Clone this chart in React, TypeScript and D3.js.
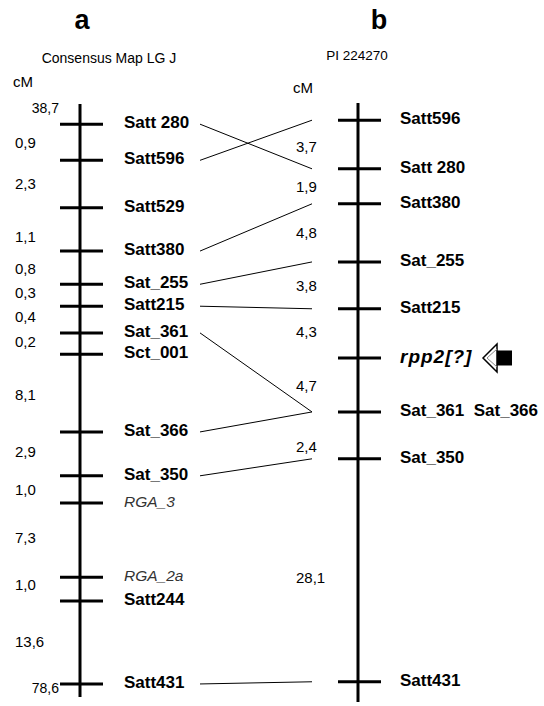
import React from "react";
import * as d3 from "d3";

// positions are given along each linkage group, 0 = top of the bar, 100 = bottom
const leftMarkers = ["Satt 280", "Satt596", "Satt529", "Satt380", "Sat_255", "Satt215", "Sat_361", "Sct_001", "Sat_366", "Sat_350", "RGA_3", "RGA_2a", "Satt244", "Satt431"];
const leftPos = [3.4, 9.5, 17.5, 24.8, 30.4, 34.1, 38.6, 42.2, 55.3, 62.7, 67.3, 79.8, 83.8, 97.8];
const leftItalic = ["RGA_3", "RGA_2a"];
const leftIntervals = ["0,9", "2,3", "1,1", "0,8", "0,3", "0,4", "0,2", "8,1", "2,9", "1,0", "7,3", "1,0", "13,6"];
const leftIntervalPos = [6.6, 13.5, 22.4, 27.8, 31.9, 35.9, 40.1, 49.1, 58.7, 65.1, 73.2, 81.1, 90.7];
const leftEnds = ["38,7", "78,6"];
const leftEndPos = [0.7, 98.5];

const rightMarkers = ["Satt596", "Satt 280", "Satt380", "Sat_255", "Satt215", "rpp2[?]", "Sat_361  Sat_366", "Sat_350", "Satt431"];
const rightPos = [2.9, 11.1, 17.0, 26.8, 34.7, 43.0, 52.1, 60.0, 97.6];
const rightIntervals = ["3,7", "1,9", "4,8", "3,8", "4,3", "4,7", "2,4", "28,1"];
const rightIntervalPos = [7.3, 14.2, 21.8, 30.9, 38.6, 47.7, 58.0, 80.1];
const gene = "rpp2[?]";

const links = [
  ["Satt 280", "Satt 280"],
  ["Satt596", "Satt596"],
  ["Satt380", "Satt380"],
  ["Sat_255", "Sat_255"],
  ["Satt215", "Satt215"],
  ["Sat_361", "Sat_361  Sat_366"],
  ["Sat_366", "Sat_361  Sat_366"],
  ["Sat_350", "Sat_350"],
  ["Satt431", "Satt431"],
];

const FONT = "'Liberation Sans', Arial, sans-serif";
const W = 544;
const H = 706;

export default function App() {
  const yL = d3.scaleLinear().domain([0, 100]).range([104, 697]);
  const yR = d3.scaleLinear().domain([0, 100]).range([103, 696]);
  const leftX = 80;
  const rightX = 358;
  const linkX = d3.scaleLinear().domain([0, 1]).range([200, 312]);

  const leftY = (name: string) => yL(leftPos[leftMarkers.indexOf(name)]);
  const rightY = (name: string) => yR(rightPos[rightMarkers.indexOf(name)]);
  const geneY = rightY(gene);

  return (
    <svg width={W} height={H} style={{ position: "absolute", left: 0, top: 0, background: "#fff" }} fontFamily={FONT}>
      {/* headings */}
      <text x={82} y={29} textAnchor="middle" fontSize={27} fontWeight="bold">a</text>
      <text x={379} y={29} textAnchor="middle" fontSize={27} fontWeight="bold">b</text>
      <text x={109} y={58} dy="0.35em" textAnchor="middle" fontSize={14}>Consensus Map LG J</text>
      <text x={357} y={55} dy="0.35em" textAnchor="middle" fontSize={13.5}>PI 224270</text>
      <text x={13} y={82} dy="0.35em" fontSize={15}>cM</text>
      <text x={293} y={88} dy="0.35em" fontSize={15}>cM</text>

      {/* links */}
      {links.map(([a, b], i) => (
        <line key={"l" + i} x1={linkX(0)} y1={leftY(a)} x2={linkX(1)} y2={rightY(b)} stroke="#000" strokeWidth={1} />
      ))}

      {/* left group */}
      <line x1={leftX} x2={leftX} y1={yL(0)} y2={yL(100)} stroke="#000" strokeWidth={3} />
      {leftMarkers.map((m, i) => (
        <g key={"lm" + i}>
          <line x1={leftX - 20} x2={leftX + 23} y1={yL(leftPos[i])} y2={yL(leftPos[i])} stroke="#000" strokeWidth={3} />
          <text
            x={124}
            y={yL(leftPos[i]) - 2}
            dy="0.35em"
            fontSize={leftItalic.includes(m) ? 15.5 : 17}
            fontWeight={leftItalic.includes(m) ? "normal" : "bold"}
            fontStyle={leftItalic.includes(m) ? "italic" : "normal"}
            fill={leftItalic.includes(m) ? "#333" : "#000"}
          >
            {m}
          </text>
        </g>
      ))}
      {leftIntervals.map((t, i) => (
        <text key={"li" + i} x={15} y={yL(leftIntervalPos[i])} dy="0.35em" fontSize={15}>{t}</text>
      ))}
      {leftEnds.map((t, i) => (
        <text key={"le" + i} x={59} y={yL(leftEndPos[i])} dy="0.35em" textAnchor="end" fontSize={14}>{t}</text>
      ))}

      {/* right group */}
      <line x1={rightX} x2={rightX} y1={yR(0)} y2={yR(101)} stroke="#000" strokeWidth={3} />
      {rightMarkers.map((m, i) => (
        <g key={"rm" + i}>
          <line x1={rightX - 20} x2={rightX + 23} y1={yR(rightPos[i])} y2={yR(rightPos[i])} stroke="#000" strokeWidth={3} />
          <text
            x={400}
            y={yR(rightPos[i]) - 2}
            dy="0.35em"
            fontSize={m === gene ? 19 : 17}
            fontWeight="bold"
            fontStyle={m === gene ? "italic" : "normal"}
            letterSpacing={m === gene ? 1 : 0}
            style={{ whiteSpace: "pre" }}
          >
            {m}
          </text>
        </g>
      ))}
      {rightIntervals.map((t, i) => (
        <text key={"ri" + i} x={296} y={yR(rightIntervalPos[i])} dy="0.35em" fontSize={15}>{t}</text>
      ))}

      {/* arrow pointing at the gene */}
      <g transform={`translate(483,${geneY})`}>
        <rect x={14} y={-7.5} width={15} height={15} fill="#000" />
        <path d="M0,0 L14,-14 L14,14 Z" fill="#fff" stroke="#000" strokeWidth={1.5} strokeLinejoin="miter" />
        <path d="M4,0 L14,-9 M4,0 L14,9" stroke="#888" strokeWidth={1} fill="none" />
      </g>
    </svg>
  );
}
